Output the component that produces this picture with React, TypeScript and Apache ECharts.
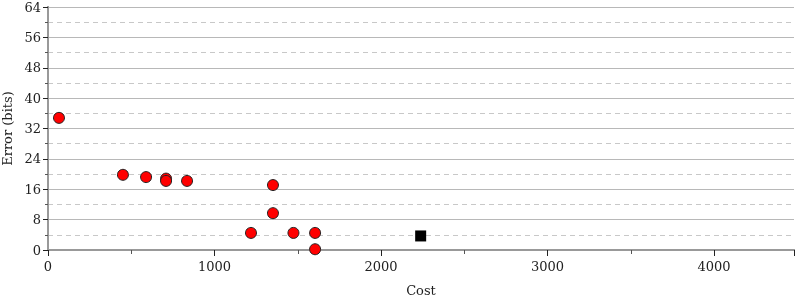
import React, { useEffect, useRef } from "react";
import * as echarts from "echarts";

const circleCost = [66, 450, 589, 709, 709, 835, 1351, 1351, 1219, 1474, 1604, 1604];
const circleError = [34.8, 19.8, 19.2, 18.8, 18.2, 18.2, 17.1, 9.7, 4.5, 4.5, 4.5, 0.2];
const squareCost = [2238];
const squareError = [3.7];
const xTicks = [0, 1000, 2000, 3000, 4000];
const yTicks = [0, 8, 16, 24, 32, 40, 48, 56, 64];

const FONT = "DejaVu Serif";

export default function App() {
  const ref = useRef<HTMLDivElement>(null);
  useEffect(() => {
    if (!ref.current) return;
    const chart = echarts.init(ref.current, undefined, { renderer: "svg" });
    const circles = circleCost.map((c, i) => [c, circleError[i]]);
    const squares = squareCost.map((c, i) => [c, squareError[i]]);
    const axisLineStyle = { color: "#999999", width: 2 };
    chart.setOption({
      animation: false,
      grid: { left: 48, right: 6, top: 7, bottom: 50, containLabel: false, outerBoundsMode: "none" },
      xAxis: [
        {
          type: "value",
          min: 0,
          max: 4480,
          interval: 1000,
          name: "Cost",
          nameLocation: "middle",
          nameGap: 34,
          nameTextStyle: { fontFamily: FONT, fontSize: 13, color: "#222" },
          axisLine: { show: true, lineStyle: axisLineStyle },
          axisTick: { show: true, length: 6, lineStyle: { color: "#222" } },
          minorTick: { show: true, splitNumber: 2, length: 4, lineStyle: { color: "#555" } },
          axisLabel: {
            fontFamily: FONT,
            fontSize: 13,
            color: "#222",
            margin: 10,
            formatter: (v: number) => (xTicks.includes(v) ? String(v) : ""),
          },
          splitLine: { show: false },
        },
        {
          type: "value",
          position: "top",
          min: 0,
          max: 4480,
          interval: 1000,
          axisLine: { show: true, lineStyle: axisLineStyle },
          axisTick: { show: false },
          axisLabel: { show: false },
          splitLine: { show: false },
        },
      ],
      yAxis: [
        {
          type: "value",
          min: 0,
          max: 64,
          interval: 8,
          name: "Error (bits)",
          nameLocation: "middle",
          nameGap: 31,
          nameTextStyle: { fontFamily: FONT, fontSize: 13, color: "#222" },
          axisLine: { show: true, lineStyle: axisLineStyle },
          axisTick: { show: true, length: 5, lineStyle: { color: "#222" } },
          minorTick: { show: true, splitNumber: 2, length: 3, lineStyle: { color: "#555" } },
          axisLabel: {
            fontFamily: FONT,
            fontSize: 13,
            color: "#222",
            margin: 7,
            formatter: (v: number) => (yTicks.includes(v) ? String(v) : ""),
          },
          splitLine: { show: true, lineStyle: { color: "#b8b8b8", width: 1 } },
          minorSplitLine: { show: true, lineStyle: { color: "#c8c8c8", type: [5, 4], width: 1 } },
        },
        {
          type: "value",
          position: "right",
          min: 0,
          max: 64,
          interval: 8,
          axisLine: { show: true, lineStyle: axisLineStyle },
          axisTick: { show: true, inside: true, length: 5, lineStyle: { color: "#222" } },
          minorTick: { show: true, splitNumber: 2, length: 3, lineStyle: { color: "#555" } },
          axisLabel: { show: false },
          splitLine: { show: false },
        },
      ],
      series: [
        {
          type: "scatter",
          data: circles,
          symbol: "circle",
          symbolSize: 11,
          itemStyle: { color: "#ff0000", borderColor: "#222", borderWidth: 1, opacity: 1 },
          z: 5,
        },
        {
          type: "scatter",
          data: squares,
          symbol: "rect",
          symbolSize: 11,
          itemStyle: { color: "#000000", opacity: 1 },
          z: 5,
        },
      ],
    });
    return () => chart.dispose();
  }, []);
  return (
    <div
      ref={ref}
      style={{ position: "fixed", left: 0, top: 0, width: 800, height: 300 }}
    />
  );
}
